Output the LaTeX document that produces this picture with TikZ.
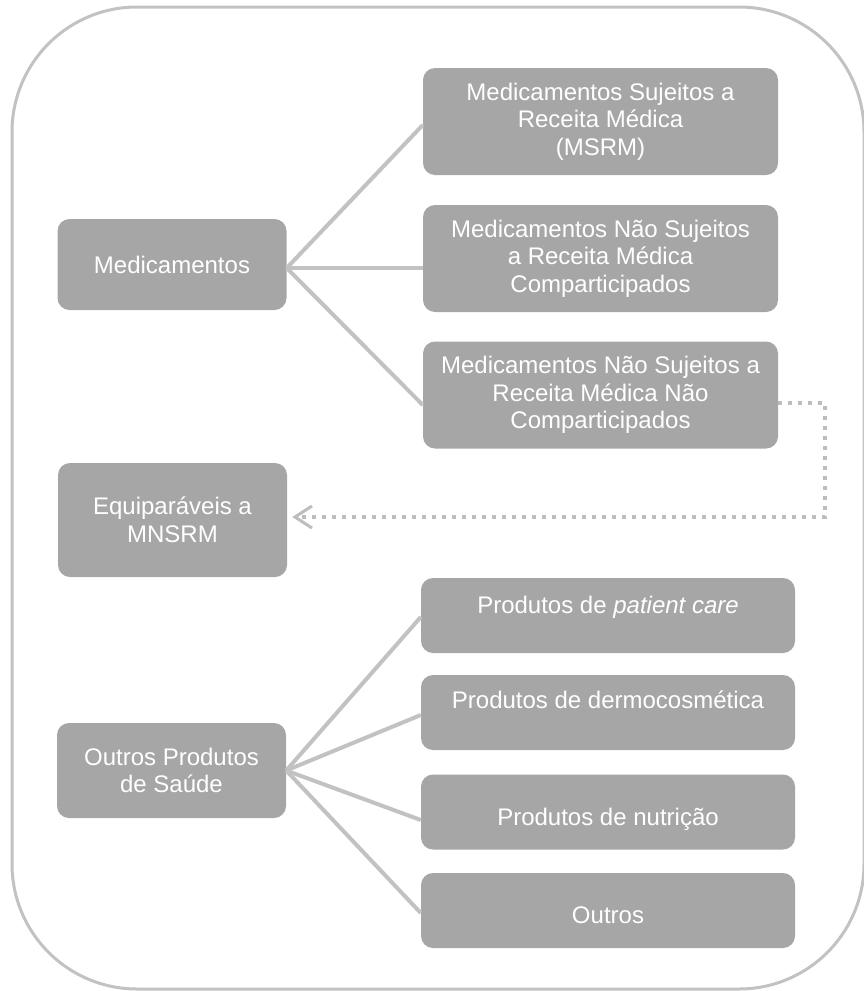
\documentclass[tikz,border=0pt]{standalone}
\usepackage{fontspec}
\setmainfont{Liberation Sans}
\usetikzlibrary{arrows.meta,calc}
\definecolor{boxgray}{HTML}{A6A6A6}
\definecolor{linegray}{HTML}{C2C2C2}
\definecolor{dotgray}{HTML}{BDBDBD}
\begin{document}
\begin{tikzpicture}[x=1pt,y=-1pt,
  box/.style={fill=boxgray, rounded corners=12pt, text=white, align=center, inner sep=0pt,
    font=\fontsize{24pt}{27.6pt}\selectfont},
  leftbox/.style={box, minimum width=229pt},
  topbox/.style={box, minimum width=355pt, minimum height=107pt},
  botbox/.style={box, minimum width=374pt, minimum height=75pt},
  conn/.style={draw=linegray, line width=4pt},
  dotconn/.style={draw=dotgray, line width=4pt, dash pattern=on 4pt off 6pt}]
\useasboundingbox (0,0) rectangle (863,991);
\draw[linegray, line width=3pt, rounded corners=125pt] (12,7) rectangle (864,989);

% left column
\node[leftbox, minimum height=91pt] (med) at (172,264.5) {Medicamentos};
\node[leftbox, minimum height=114pt] (eq) at (172.5,520) {Equiparáveis a\\MNSRM};
\node[leftbox, minimum height=95pt] (ops) at (171.5,770.5) {Outros Produtos\\de Saúde};

% top right column
\node[topbox] (msrm) at (600.5,121.5) {Medicamentos Sujeitos a\\Receita Médica\\(MSRM)};
\node[topbox] (mnc) at (600.5,258.5) {Medicamentos Não Sujeitos\\a Receita Médica\\Comparticipados};
\node[topbox] (mnn) at (600.5,395) {Medicamentos Não Sujeitos a\\Receita Médica Não\\Comparticipados};

% bottom right column
\node[botbox, text height=10pt, text depth=14pt] (pc) at (608,615.5) {Produtos de \textit{patient care}};
\node[botbox, text height=8pt, text depth=17pt] (dc) at (608,712.5) {Produtos de dermocosmética};
\node[botbox, text height=30pt, text depth=4pt] (nu) at (608,812) {Produtos de nutrição};
\node[botbox, text height=30pt, text depth=5pt] (ou) at (608,910.5) {Outros};

% connectors from Medicamentos
\coordinate (jm) at ([yshift=-3.5pt]med.east);
\draw[conn] (jm) -- ([yshift=-3.5pt]msrm.west);
\draw[conn] (jm) -- ([yshift=-9.5pt]mnc.west);
\draw[conn] (jm) -- ([yshift=-10pt]mnn.west);

% connectors from Outros Produtos de Saude
\coordinate (jo) at (ops.east);
\draw[conn] (jo) -- ([yshift=-1.5pt]pc.west);
\draw[conn] (jo) -- ([yshift=-2.5pt]dc.west);
\draw[conn] (jo) -- ([yshift=-8pt]nu.west);
\draw[conn] (jo) -- ([yshift=-2.5pt]ou.west);

% dotted arrow
\draw[dotconn, -{Straight Barb[length=17pt, width=22pt, line width=3pt]}]
  ([yshift=-8pt]mnn.east) -- ++(47,0) |- ([xshift=5pt, yshift=3pt]eq.east);
\end{tikzpicture}
\end{document}
